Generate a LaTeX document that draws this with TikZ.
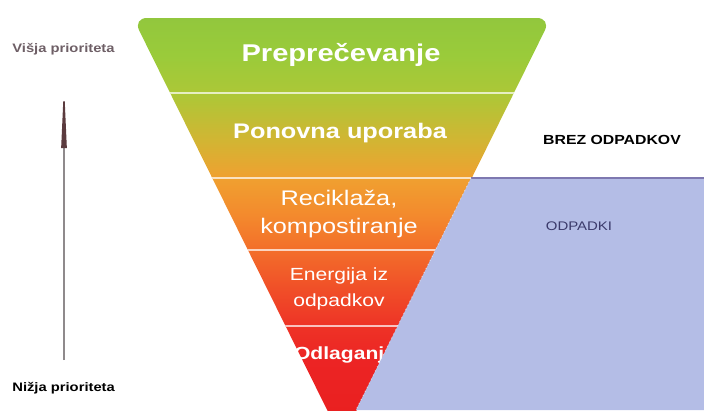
\documentclass[tikz,border=0pt]{standalone}
\usepackage{fontspec}
\setmainfont{Liberation Sans}[FakeStretch=1.2]
\usepackage{xcolor}
\usetikzlibrary{
    arrows.meta,
    positioning
}
\definecolor{redA}{HTML}{E81E1E}
\definecolor{redB}{HTML}{EC2424}
\definecolor{redC}{HTML}{EE3326}
\definecolor{redD}{HTML}{F04E28}
\definecolor{orangeA}{HTML}{F36E2A}
\definecolor{orangeB}{HTML}{F38A2D}
\definecolor{orangeC}{HTML}{F0A030}
\definecolor{ochre}{HTML}{D2B533}
\definecolor{limeA}{HTML}{ADC737}
\definecolor{limeB}{HTML}{9ACB3A}
\definecolor{limeC}{HTML}{92C73D}
\definecolor{wastefill}{HTML}{B4BDE6}
\definecolor{wasteline}{HTML}{7E78B0}
\definecolor{wastetext}{HTML}{3B3A6B}
\definecolor{prioritygray}{HTML}{6E5F66}
\definecolor{shaftgray}{HTML}{8F8A8C}
\definecolor{tipbrown}{HTML}{5B3B3E}
\pgfdeclareverticalshading{pyramidshade}{100bp}{
    color(0bp)=(redA); color(25bp)=(redA); color(34.5bp)=(redB);
    color(38.5bp)=(redC); color(42.8bp)=(redD); color(47.5bp)=(orangeA);
    color(51.7bp)=(orangeB); color(56bp)=(orangeC); color(60.5bp)=(ochre);
    color(65.9bp)=(limeA); color(70.6bp)=(limeB); color(75bp)=(limeC);
    color(100bp)=(limeC)}
\tikzset{
    bandbig/.style={text=white, inner sep=0pt, font=\bfseries\fontsize{13.8}{16}\selectfont},
    bandmid/.style={text=white, inner sep=0pt, font=\bfseries\fontsize{12}{14}\selectfont},
    bandtwo/.style={text=white, inner sep=0pt, align=center},
    sepline/.style={draw=white, opacity=0.7, line width=1pt},
    sidelabel/.style={anchor=west, inner sep=0pt, font=\bfseries\fontsize{7}{8}\selectfont}
}

\begin{document}
\begin{tikzpicture}[x=0.02cm, y=-0.02cm]
    \useasboundingbox (0,0) rectangle (704,410);
    \clip (0,0) rectangle (704,410);
    \path[shading=pyramidshade, rounded corners=8pt] (133,18) -- (551,18) -- (342,440) -- cycle;
    \begin{scope}
        \clip (133,18) -- (551,18) -- (342,440) -- cycle;
        \foreach \y in {93,178,250,326}
            \draw[sepline] (100,\y) -- (600,\y);
    \end{scope}
    \node[bandbig] (prevent) at (341,55) {Preprečevanje};
    \node[bandmid] (reuse) at (340,133) {Ponovna uporaba};
    \node[bandtwo, font=\fontsize{12}{15.9}\selectfont] (recycle) at (339,214) {Reciklaža,\\kompostiranje};
    \node[bandtwo, font=\fontsize{10}{14.7}\selectfont] (energy) at (339,289) {Energija iz\\odpadkov};
    \node[bandtwo, font=\bfseries\fontsize{10}{12}\selectfont] (disposal) at (345,355) {Odlaganje};
    \fill[wastefill] (471,178) -- (704,178) -- (704,410) -- (356,410) -- cycle;
    \draw[wasteline, line width=0.8pt] (471,178) -- (704,178);
    \draw[white, opacity=0.5, line width=0.6pt, dotted] (471,178) -- (356,410);
    \node[font=\bfseries\fontsize{7.5}{9}\selectfont] (nowaste) at (612,140) {BREZ ODPADKOV};
    \node[text=wastetext, font=\fontsize{7.1}{9}\selectfont] (waste) at (579,226) {ODPADKI};
    \node[sidelabel, text=prioritygray] (higher) at (12,49) {Višja prioriteta};
    \node[sidelabel] (lower) at (12,388) {Nižja prioriteta};
    \coordinate (arrowbase) at (64,360);
    \coordinate (arrowtip) at (64,83);
    \draw[shaftgray, line width=0.85pt, -{Triangle[length=37pt, width=3pt, color=tipbrown]}] (arrowbase) -- (arrowtip);
\end{tikzpicture}
\end{document}
